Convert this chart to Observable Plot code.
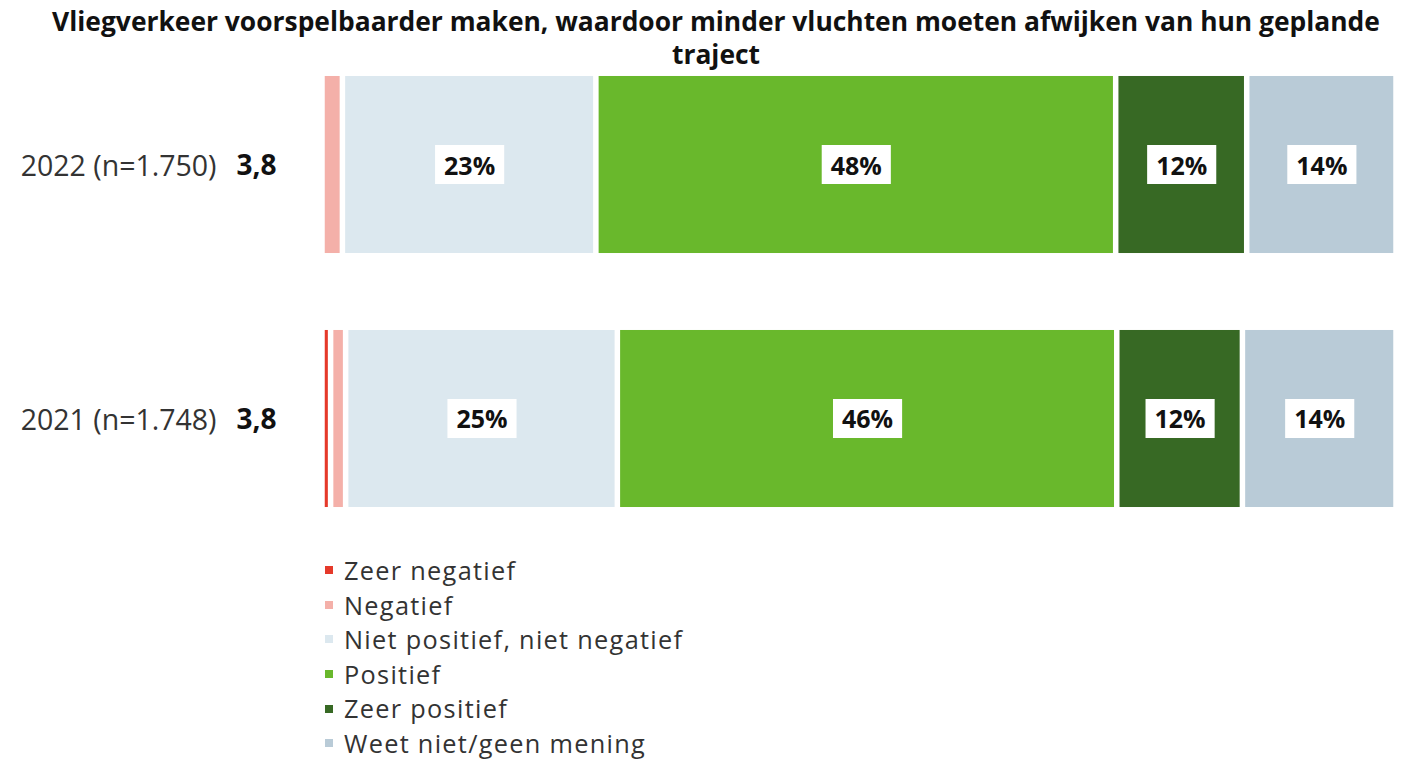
<!DOCTYPE html>
<html>
<head>
<meta charset="utf-8">
<script src="https://cdn.jsdelivr.net/npm/d3@7"></script>
<script src="https://cdn.jsdelivr.net/npm/@observablehq/plot@0.6"></script>
<style>
  body { margin: 0; background: #fff; font-family: "Open Sans", sans-serif; }
  #title { height: 72px; box-sizing: border-box; padding-top: 5px; padding-left: 20px; text-align: center; font-weight: 700; font-size: 26.4px; line-height: 33px; color: #111; width: 1412px; white-space: nowrap; }
  #legend { padding-left: 322px; margin-top: 1px; }
  .item { display: flex; align-items: center; height: 34.6px; line-height: 34.6px; font-size: 25.3px; letter-spacing: 1.3px; color: #333; }
  .sw { width: 8px; height: 8px; margin-left: 3px; margin-right: 11px; flex: none; }
</style>
</head>
<body>
<div id="title">Vliegverkeer voorspelbaarder maken, waardoor minder vluchten moeten afwijken van hun geplande<br>traject</div>
<div id="chart"></div>
<div id="legend"></div>
<script>
const years = ["2022 (n=1.750)", "2021 (n=1.748)"];
const scores = ["3,8", "3,8"];
const categories = ["Zeer negatief", "Negatief", "Niet positief, niet negatief", "Positief", "Zeer positief", "Weet niet/geen mening"];
const colors = ["#e5392a", "#f4b0a9", "#dce8ef", "#69b82c", "#376924", "#b9cbd7"];
const values2022 = [0, 1.9, 23.6, 48.4, 12.2, 13.9];
const values2021 = [0.8, 1.4, 25.3, 46.5, 11.7, 14.3];
const labels2022 = ["", "", "23%", "48%", "12%", "14%"];
const labels2021 = ["", "", "25%", "46%", "12%", "14%"];

const rows = [];
[[values2022, labels2022], [values2021, labels2021]].forEach(([vals, labs], i) => {
  categories.forEach((c, j) => rows.push({year: years[i], category: c, value: vals[j], label: labs[j]}));
});
const scoreRows = years.map((y, i) => ({year: y, score: scores[i]}));

const plot = Plot.plot({
  width: 1412,
  height: 480,
  marginLeft: 322,
  marginRight: 16,
  marginTop: 0,
  marginBottom: 41,
  style: {fontFamily: "'Open Sans', sans-serif", background: "#fff"},
  x: {domain: [0, 100], axis: null},
  y: {domain: years, paddingInner: 0.303, paddingOuter: 0.0157, round: false, label: null},
  color: {domain: categories, range: colors},
  marks: [
    Plot.barX(rows, Plot.stackX({x: "value", y: "year", fill: "category", order: categories, insetLeft: 2.75, insetRight: 2.75})),
    Plot.text(rows, Plot.stackX({x: "value", y: "year", z: "category", text: "label", order: categories, dy: 1.5, fontSize: 25, fontWeight: 700, fill: "#111", className: "pct"})),
    Plot.axisY({tickSize: 0, tickPadding: 106, fontSize: 28.5, color: "#333", dy: 1.5, label: null}),
    Plot.text(scoreRows, {y: "year", text: "score", frameAnchor: "left", dx: -66, dy: 1.5, textAnchor: "middle", fontSize: 28, fontWeight: 700, fill: "#111"})
  ]
});
document.getElementById("chart").appendChild(plot);

// white boxes behind the percentage labels
plot.querySelectorAll("g.pct text").forEach(t => {
  if (!t.textContent) return;
  const b = t.getBBox();
  const r = document.createElementNS("http://www.w3.org/2000/svg", "rect");
  const cy = b.y + b.height / 2;
  r.setAttribute("x", b.x - 9);
  r.setAttribute("y", cy - 19.5);
  r.setAttribute("width", b.width + 18);
  r.setAttribute("height", 39);
  r.setAttribute("fill", "#fff");
  const tr = t.getAttribute("transform");
  if (tr) r.setAttribute("transform", tr);
  t.parentNode.insertBefore(r, t);
});

const legend = document.getElementById("legend");
categories.forEach((c, i) => {
  const d = document.createElement("div");
  d.className = "item";
  const s = document.createElement("span");
  s.className = "sw";
  s.style.background = colors[i];
  d.appendChild(s);
  const lab = document.createElement("span");
  lab.textContent = c;
  d.appendChild(lab);
  legend.appendChild(d);
});
</script>
</body>
</html>
